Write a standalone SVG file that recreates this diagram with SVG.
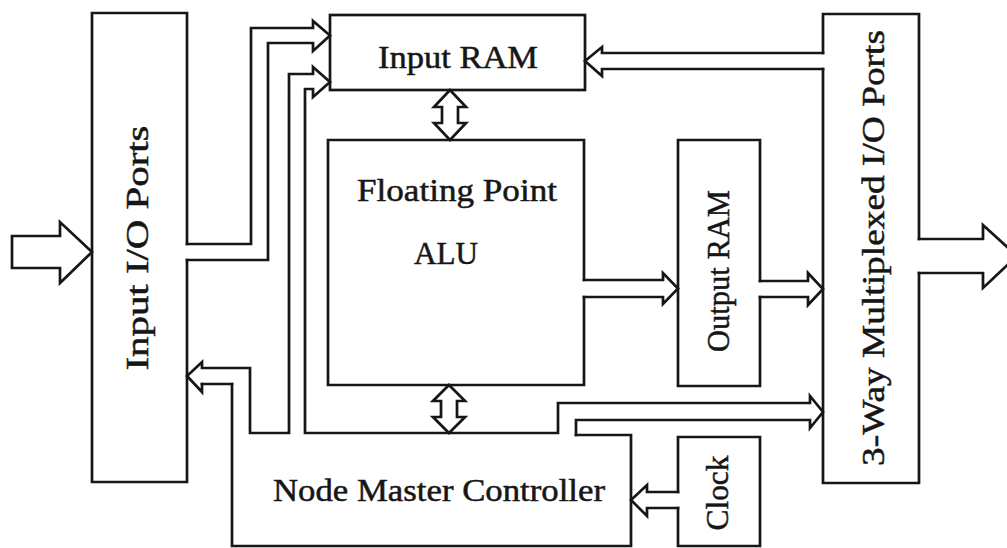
<svg xmlns="http://www.w3.org/2000/svg" width="1007" height="548" viewBox="0 0 1007 548">
<style>
.ln{fill:none;stroke:#161616;stroke-width:2.7;stroke-linejoin:miter;stroke-linecap:square}
.t{font-family:"Liberation Serif","Times New Roman",serif;font-size:31px;fill:#161616;stroke:#161616;stroke-width:0.5;text-anchor:middle}
</style>
<rect width="1007" height="548" fill="#fff"/>
<g id="input-io-ports">
<path class="ln" d="M187,244 V13 H92 V482 H187 V260"/>
<text class="t" transform="translate(148,248) rotate(-90)" textLength="245" lengthAdjust="spacingAndGlyphs">Input I/O Ports</text>
</g>
<g id="input-ram">
<rect class="ln" x="330" y="15" width="255" height="75"/>
<text class="t" x="458" y="68" textLength="160" lengthAdjust="spacingAndGlyphs">Input RAM</text>
</g>
<g id="fp-alu">
<path class="ln" d="M584,280 V140 H328 V385 H584 V297"/>
<text class="t" x="457" y="201" textLength="200" lengthAdjust="spacingAndGlyphs">Floating Point</text>
<text class="t" x="446" y="264" textLength="64" lengthAdjust="spacingAndGlyphs">ALU</text>
</g>
<g id="output-ram">
<path class="ln" d="M760,281 V140 H678 V386 H760 V297"/>
<text class="t" transform="translate(729,271) rotate(-90)" textLength="162" lengthAdjust="spacingAndGlyphs">Output RAM</text>
</g>
<g id="mux-io-ports">
<path class="ln" d="M823,53 V14 H919 V239 M919,273 V483 H823 V69"/>
<text class="t" transform="translate(884,248) rotate(-90)" textLength="436" lengthAdjust="spacingAndGlyphs">3-Way Multiplexed I/O Ports</text>
</g>
<g id="node-master-controller">
<path class="ln" d="M576,435 H631 V546 H232 V384"/>
<text class="t" x="439" y="501" textLength="332" lengthAdjust="spacingAndGlyphs">Node Master Controller</text>
</g>
<g id="clock">
<path class="ln" d="M678,492 V437 H760 V546 H678 V508"/>
<text class="t" transform="translate(728,493) rotate(-90)" textLength="75" lengthAdjust="spacingAndGlyphs">Clock</text>
</g>
<g id="connectors">
<path class="ln" d="M60,222 V236 H12 V268 H60 V283 L92,252 Z"/>
<path class="ln" d="M919,239 H983 V225 L1017,256 L983,288 V273 H919"/>
<path class="ln" d="M187,244 H251 V28 H313 V21 L330,35.5 L313,51 V43 H268 V260 H187"/>
<path class="ln" d="M202,384 V392 L187,376 L202,362 V368 H250 V433 H289 V74 H313 V67 L330,82 L313,97 V89 H305 V433 H558 V403 H810 V396 L823,412 L810,428 V420 H576 V435"/>
<path class="ln" d="M202,384 H232"/>
<path class="ln" d="M584,280 H663 V273 L678,288.5 L663,304 V297 H584"/>
<path class="ln" d="M760,281 H808 V273 L823,289 L808,305 V297 H760"/>
<path class="ln" d="M823,53 H602 V47 L585,61 L602,76 V69 H823"/>
<path class="ln" d="M678,492 H647 V485 L631,500 L647,516 V508 H678"/>
<path class="ln" d="M450,90 L466,107 H458 V123 H466 L450,140 L434,123 H442 V107 H434 Z"/>
<path class="ln" d="M449,385 L465,401 H457 V417 H465 L449,433 L433,417 H441 V401 H433 Z"/>
</g>
</svg>
